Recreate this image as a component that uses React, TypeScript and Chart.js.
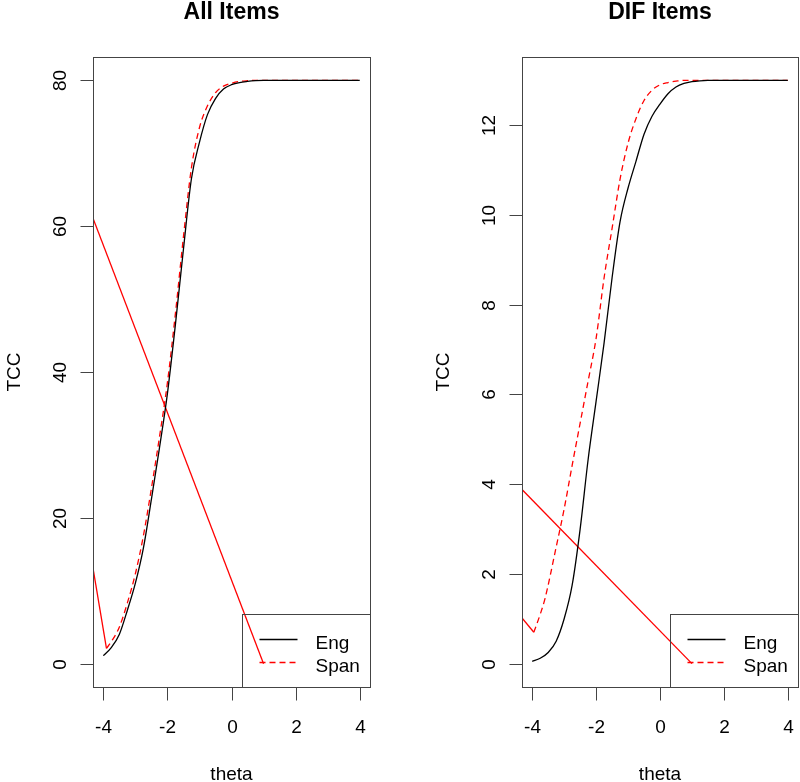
import React, { useEffect, useRef } from "react";
import { Chart, registerables } from "chart.js";
Chart.register(...registerables);

// ---------- data ----------
const THETA = [-4, -3.75, -3.5, -3.25, -3, -2.75, -2.5, -2.25, -2, -1.75, -1.5, -1.25, -1, -0.75, -0.5, -0.25, 0, 0.25, 0.5, 0.75, 1, 1.25, 1.5, 1.75, 2, 2.25, 2.5, 2.75, 3, 3.25, 3.5, 3.75, 4];

const ENG_ALL = [1.1, 2.2, 4.0, 7.3, 11.0, 15.8, 22.5, 29.5, 37.0, 46.5, 56.8, 66.5, 71.5, 75.3, 77.5, 78.8, 79.4, 79.7, 79.85, 79.95, 80, 80, 80, 80, 80, 80, 80, 80, 80, 80, 80, 80, 80];
const SPAN_ALL_THETA = [-3.9, -3.75, -3.5, -3.25, -3, -2.75, -2.5, -2.25, -2, -1.75, -1.5, -1.25, -1, -0.75, -0.5, -0.25, 0, 0.25, 0.5, 0.75, 1, 1.25, 1.5, 1.75, 2, 2.25, 2.5, 2.75, 3, 3.25, 3.5, 3.75, 4];
const SPAN_ALL = [2.1, 3.0, 5.0, 8.3, 12.3, 17.5, 24.0, 31.0, 38.5, 48.0, 58.5, 68.0, 73.5, 76.5, 78.3, 79.2, 79.6, 79.85, 79.95, 80, 80, 80, 80, 80, 80, 80, 80, 80, 80, 80, 80, 80, 80];

const ENG_DIF = [0.05, 0.12, 0.25, 0.5, 1.0, 1.75, 3.0, 4.55, 5.85, 7.15, 8.6, 9.85, 10.6, 11.2, 11.8, 12.2, 12.47, 12.7, 12.85, 12.93, 12.97, 12.99, 13, 13, 13, 13, 13, 13, 13, 13, 13, 13, 13];
const SPAN_DIF_THETA = [-3.95, -3.75, -3.6, -3.25, -3, -2.75, -2.5, -2.25, -2, -1.75, -1.5, -1.25, -1, -0.75, -0.5, -0.25, 0, 0.25, 0.5, 0.75, 1, 1.25, 1.5, 1.75, 2, 2.25, 2.5, 2.75, 3, 3.25, 3.5, 3.75, 4];
const SPAN_DIF = [0.7, 1.1, 1.45, 2.6, 3.45, 4.42, 5.36, 6.3, 7.25, 8.6, 9.7, 10.8, 11.6, 12.15, 12.55, 12.78, 12.9, 12.95, 12.98, 13, 13, 13, 13, 13, 13, 13, 13, 13, 13, 13, 13, 13, 13];

// stray red segments present in the original figure
const STRAY_LONG_ALL_X = [-4.32, 1.0];
const STRAY_LONG_ALL_Y = [61.1, 0];
const STRAY_SHORT_ALL_X = [-4.32, -3.9];
const STRAY_SHORT_ALL_Y = [13.1, 2.1];
const STRAY_LONG_DIF_X = [-4.32, 1.0];
const STRAY_LONG_DIF_Y = [3.88, 0];
const STRAY_SHORT_DIF_X = [-4.32, -3.95];
const STRAY_SHORT_DIF_Y = [1.02, 0.7];

const X_TICKS = [-4, -2, 0, 2, 4];
const Y_TICKS_ALL = [0, 20, 40, 60, 80];
const Y_TICKS_DIF = [0, 2, 4, 6, 8, 10, 12];
const LEGEND_LABELS = ["Eng", "Span"];

const FONT = '"Liberation Sans", Arial, Helvetica, sans-serif';
const AXIS_COLOR = "#444444";

const pts = (xs: number[], ys: number[]) => xs.map((x, i) => ({ x, y: ys[i] }));

type Panel = {
  title: string;
  yMin: number;
  yMax: number;
  yTicks: number[];
  eng: { x: number; y: number }[];
  span: { x: number; y: number }[];
  strayLong: { x: number; y: number }[];
  strayShort: { x: number; y: number }[];
  padLeft: number;
  padRight: number;
};

const PANELS: Panel[] = [
  {
    title: "All Items",
    yMin: -3.2,
    yMax: 83.2,
    yTicks: Y_TICKS_ALL,
    eng: pts(THETA, ENG_ALL),
    span: pts(SPAN_ALL_THETA, SPAN_ALL),
    strayLong: pts(STRAY_LONG_ALL_X, STRAY_LONG_ALL_Y),
    strayShort: pts(STRAY_SHORT_ALL_X, STRAY_SHORT_ALL_Y),
    padLeft: 93,
    padRight: 30,
  },
  {
    title: "DIF Items",
    yMin: -0.52,
    yMax: 13.52,
    yTicks: Y_TICKS_DIF,
    eng: pts(THETA, ENG_DIF),
    span: pts(SPAN_DIF_THETA, SPAN_DIF),
    strayLong: pts(STRAY_LONG_DIF_X, STRAY_LONG_DIF_Y),
    strayShort: pts(STRAY_SHORT_DIF_X, STRAY_SHORT_DIF_Y),
    padLeft: 122,
    padRight: 2,
  },
];

function makeDecor(panel: Panel) {
  return {
    id: "rdecor",
    afterDraw(chart: any) {
      const { ctx, chartArea: a, scales } = chart;
      const xs = scales.x;
      const ys = scales.y;
      const L = Math.round(a.left) + 0.5;
      const R = Math.round(a.right) + 0.5;
      const T = Math.round(a.top) + 0.5;
      const B = Math.round(a.bottom) + 0.5;
      const seg = (x1: number, y1: number, x2: number, y2: number) => {
        ctx.beginPath();
        ctx.moveTo(x1, y1);
        ctx.lineTo(x2, y2);
        ctx.stroke();
      };
      ctx.save();
      ctx.strokeStyle = AXIS_COLOR;
      ctx.lineWidth = 1;
      ctx.setLineDash([]);
      // box
      ctx.strokeRect(L, T, R - L, B - T);

      // x axis
      ctx.fillStyle = "#000";
      ctx.font = `19px ${FONT}`;
      ctx.textAlign = "center";
      ctx.textBaseline = "alphabetic";
      for (const v of X_TICKS) {
        const px = Math.round(xs.getPixelForValue(v)) + 0.5;
        seg(px, B, px, B + 13);
        ctx.fillText(String(v), px, a.bottom + 46);
      }
      ctx.fillText("theta", (a.left + a.right) / 2, a.bottom + 93);

      // y axis
      for (const v of panel.yTicks) {
        const py = Math.round(ys.getPixelForValue(v)) + 0.5;
        seg(L - 13, py, L, py);
        ctx.save();
        ctx.translate(a.left - 27.5, py);
        ctx.rotate(-Math.PI / 2);
        ctx.fillText(String(v), 0, 0);
        ctx.restore();
      }
      ctx.save();
      ctx.translate(a.left - 73, (a.top + a.bottom) / 2);
      ctx.rotate(-Math.PI / 2);
      ctx.fillText("TCC", 0, 0);
      ctx.restore();

      // title
      ctx.font = `bold 23px ${FONT}`;
      ctx.fillText(panel.title, (a.left + a.right) / 2, 18.5);

      // legend (bottom right, inside plot box)
      const lw = 128;
      const lh = 73;
      const lx = Math.round(a.right - lw) + 0.5;
      const ly = Math.round(a.bottom - lh) + 0.5;
      ctx.strokeStyle = AXIS_COLOR;
      ctx.strokeRect(lx, ly, R - lx, B - ly);
      const rows = [a.bottom - 47.5, a.bottom - 24.5];
      ctx.font = `19px ${FONT}`;
      ctx.textAlign = "left";
      LEGEND_LABELS.forEach((lab, i) => {
        const ry = rows[i];
        ctx.lineWidth = 1.3;
        if (i === 0) {
          ctx.strokeStyle = "#000";
          ctx.setLineDash([]);
        } else {
          ctx.strokeStyle = "#ff0000";
          ctx.setLineDash([6, 4]);
        }
        seg(lx + 17, ry, lx + 55, ry);
        ctx.setLineDash([]);
        ctx.fillStyle = "#000";
        ctx.fillText(lab, lx + 73, ry + 9);
      });
      ctx.restore();
    },
  };
}

function PanelChart({ panel }: { panel: Panel }) {
  const ref = useRef<HTMLCanvasElement | null>(null);
  useEffect(() => {
    if (!ref.current) return;
    const chart = new Chart(ref.current, {
      type: "line",
      data: {
        datasets: [
          {
            label: "Eng",
            data: panel.eng,
            borderColor: "#000000",
            borderWidth: 1.3,
            pointRadius: 0,
            cubicInterpolationMode: "monotone",
            fill: false,
          },
          {
            label: "Span",
            data: panel.span,
            borderColor: "#ff0000",
            borderWidth: 1.3,
            borderDash: [6, 4],
            pointRadius: 0,
            cubicInterpolationMode: "monotone",
            fill: false,
          },
          {
            label: "stray1",
            data: panel.strayLong,
            borderColor: "#ff0000",
            borderWidth: 1.3,
            pointRadius: 0,
            fill: false,
          },
          {
            label: "stray2",
            data: panel.strayShort,
            borderColor: "#ff0000",
            borderWidth: 1.3,
            pointRadius: 0,
            fill: false,
          },
        ],
      } as any,
      options: {
        responsive: false,
        maintainAspectRatio: false,
        animation: false,
        layout: { padding: { left: panel.padLeft, right: panel.padRight, top: 57, bottom: 95 } },
        plugins: {
          legend: { display: false },
          title: { display: false },
          tooltip: { enabled: false },
        },
        scales: {
          x: { type: "linear", min: -4.32, max: 4.32, display: false },
          y: { type: "linear", min: panel.yMin, max: panel.yMax, display: false },
        },
        elements: { point: { radius: 0 }, line: { tension: 0 } },
      } as any,
      plugins: [makeDecor(panel)],
    });
    return () => chart.destroy();
  }, [panel]);
  return <canvas ref={ref} width={400} height={782} style={{ display: "block", width: 400, height: 782 }} />;
}

export default function App() {
  return (
    <div
      style={{
        position: "absolute",
        left: 0,
        top: 0,
        width: 800,
        height: 782,
        display: "flex",
        background: "#fff",
      }}
    >
      {PANELS.map((p) => (
        <PanelChart key={p.title} panel={p} />
      ))}
    </div>
  );
}
